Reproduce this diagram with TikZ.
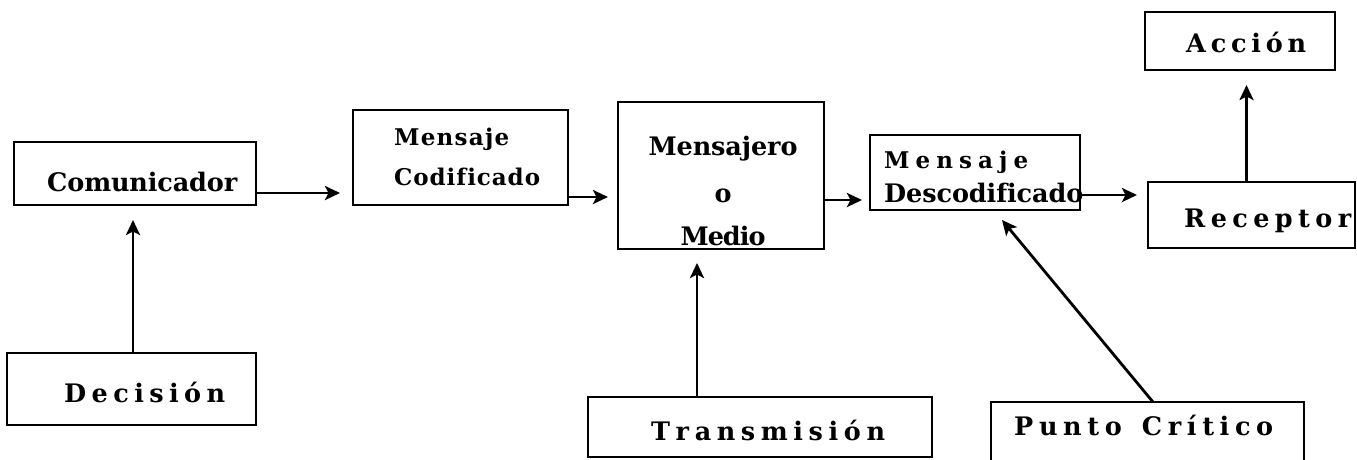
\documentclass[tikz,border=0pt]{standalone}
\usepackage{fontspec}
\usetikzlibrary{calc,arrows.meta}
\setmainfont{DejaVu Serif}

% \spread{width}{text}: sets the letters of text spaced out to the given width
\ExplSyntaxOn
\bool_new:N \l_spread_first_bool
\dim_new:N \l_spread_gap_dim
\NewDocumentCommand \spread { m m }
  {
    \hbox_set:Nn \l_tmpa_box {#2}
    \tl_set:Nn \l_tmpa_tl {#2}
    \int_set:Nn \l_tmpa_int { \tl_count:N \l_tmpa_tl }
    \dim_set:Nn \l_spread_gap_dim
      { ( #1 - \box_wd:N \l_tmpa_box ) / ( \l_tmpa_int - 1 ) }
    \bool_set_true:N \l_spread_first_bool
    \tl_map_inline:Nn \l_tmpa_tl
      {
        \bool_if:NF \l_spread_first_bool { \hskip \l_spread_gap_dim }
        \bool_set_false:N \l_spread_first_bool
        ##1
      }
  }
\ExplSyntaxOff

\begin{document}
\begin{tikzpicture}[x=1pt,y=-1pt,
  box/.style={draw, line width=2.8pt, inner sep=0pt, outer sep=0pt},
  arr/.style={line width=2.8pt, -{Stealth[length=15pt,width=14pt,inset=3.5pt]}},
  txt/.style={inner sep=0pt, font=\bfseries\fontsize{25.5}{30}\selectfont},
  stxt/.style={inner sep=0pt, font=\bfseries\fontsize{23}{27}\selectfont}]
\fill[white] (0,0) rectangle (1357,459);
\useasboundingbox (0,0) rectangle (1357,459);
\clip (0,0) rectangle (1357,459);

% boxes
\node[box, minimum width=242pt, minimum height=63pt] (com) at (135,173.5) {};
\node[box, minimum width=249pt, minimum height=72pt] (dec) at (131.5,389) {};
\node[box, minimum width=215pt, minimum height=95pt] (mc) at (460.5,157.5) {};
\node[box, minimum width=206pt, minimum height=147pt] (mm) at (721,175.5) {};
\node[box, minimum width=210pt, minimum height=75pt] (md) at (975,172.5) {};
\node[box, minimum width=207pt, minimum height=66pt] (rec) at (1251.5,215) {};
\node[box, minimum width=190pt, minimum height=58pt] (acc) at (1240,41) {};
\node[box, minimum width=344pt, minimum height=60pt] (tra) at (760,427) {};
\node[box, minimum width=313pt, minimum height=80pt] (pc) at (1147.5,442) {};

% labels
\node[txt, anchor=base west] (tcom) at (47,191) {\spread{190pt}{Comunicador}};
\node[txt, anchor=base west] (tdec) at (64,402) {\spread{161pt}{Decisión}};
\node[stxt, anchor=base west] (tmc1) at (394,145) {\spread{115pt}{Mensaje}};
\node[stxt, anchor=base west] (tmc2) at (394,185) {\spread{144pt}{Codificado}};
\node[txt, anchor=base] (tmm1) at (723,155) {\spread{149pt}{Mensajero}};
\node[txt, anchor=base] (tmm2) at (723,202) {o};
\node[txt, anchor=base] (tmm3) at (723,245) {\spread{85pt}{Medio}};
\node[stxt, anchor=base west] (tmd1) at (884,168) {\spread{144pt}{Mensaje}};
\node[txt, anchor=base west] (tmd2) at (884,202) {\spread{197pt}{Descodificado}};
\node[txt, anchor=base west] (trec) at (1184,227) {\spread{167pt}{Receptor}};
\node[txt, anchor=base west] (tacc) at (1186,52) {\spread{120pt}{Acción}};
\node[txt, anchor=base west] (ttra) at (651,440) {\spread{232pt}{Transmisión}};
\node[txt, anchor=base west] (tpc) at (1014,435) {\spread{259pt}{Punto~Crítico}};

% connectors
\draw[arr] ($(com.south east)+(0,-12)$) -- ($(mc.south west)+(-13,-12)$);
\draw[arr] ($(mc.south east)+(0,-8)$) -- ($(mm.west |- mc.south east)+(-10,-8)$);
\draw[arr] ($(mm.east |- md.south)+(0,-10)$) -- ($(md.south west)+(-8,-10)$);
\draw[arr] ($(md.south east)+(0,-15)$) -- ($(rec.west |- md.south)+(-11,-15)$);
\draw[arr] ($(dec.north)+(1.5,0)$) -- ($(dec.north |- com.south)+(1.5,15)$);
\draw[arr] ($(rec.north)+(-5,0)$) -- ($(rec.north |- acc.south)+(-5,15)$);
\draw[arr] ($(tra.north -| mm.south)+(-24,0)$) -- ($(mm.south)+(-24,14)$);
\draw[arr] ($(pc.north west)+(162,0)$) -- ($(md.south west)+(132,10)$);
\end{tikzpicture}
\end{document}
